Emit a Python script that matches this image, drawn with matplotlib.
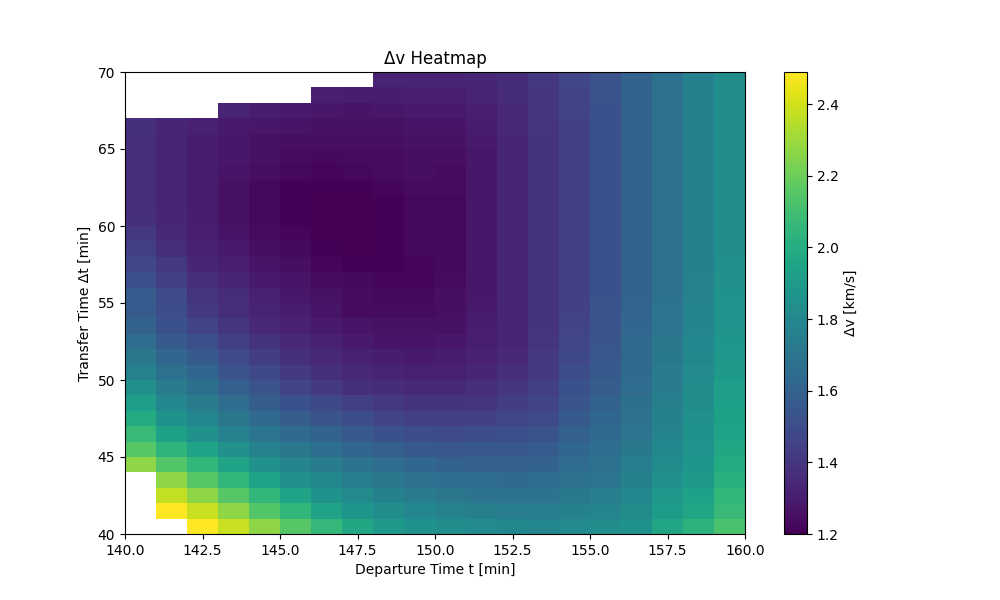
#!/usr/bin/env python3
import matplotlib
matplotlib.use('Agg')
import matplotlib.pyplot as plt
import numpy as np

nan = float('nan')

# cell edges
departure_edges = [140, 141, 142, 143, 144, 145, 146, 147, 148, 149, 150,
                   151, 152, 153, 154, 155, 156, 157, 158, 159, 160]
transfer_edges = [40, 41, 42, 43, 44, 45, 46, 47, 48, 49, 50,
                  51, 52, 53, 54, 55, 56, 57, 58, 59, 60,
                  61, 62, 63, 64, 65, 66, 67, 68, 69, 70]

# delta-v in km/s, top row (dt = 69) first
dv_top_down = [
    [nan, nan, nan, nan, nan, nan, nan, nan, 1.33, 1.33, 1.33, 1.34, 1.36, 1.41, 1.47, 1.53, 1.60, 1.68, 1.76, 1.83],
    [nan, nan, nan, nan, nan, nan, 1.31, 1.30, 1.30, 1.31, 1.31, 1.33, 1.36, 1.40, 1.46, 1.53, 1.60, 1.68, 1.76, 1.83],
    [nan, nan, nan, 1.33, 1.30, 1.29, 1.28, 1.27, 1.28, 1.29, 1.29, 1.31, 1.35, 1.40, 1.46, 1.52, 1.60, 1.68, 1.76, 1.83],
    [1.38, 1.34, 1.32, 1.29, 1.28, 1.27, 1.26, 1.26, 1.26, 1.27, 1.27, 1.30, 1.35, 1.40, 1.45, 1.52, 1.60, 1.68, 1.76, 1.83],
    [1.37, 1.33, 1.30, 1.28, 1.26, 1.25, 1.25, 1.25, 1.25, 1.26, 1.26, 1.29, 1.34, 1.39, 1.45, 1.52, 1.60, 1.68, 1.76, 1.83],
    [1.37, 1.33, 1.30, 1.28, 1.26, 1.24, 1.23, 1.24, 1.24, 1.25, 1.25, 1.28, 1.34, 1.39, 1.45, 1.52, 1.60, 1.68, 1.76, 1.83],
    [1.37, 1.33, 1.30, 1.27, 1.25, 1.23, 1.22, 1.23, 1.24, 1.25, 1.24, 1.28, 1.34, 1.39, 1.45, 1.52, 1.60, 1.68, 1.76, 1.83],
    [1.37, 1.33, 1.30, 1.26, 1.23, 1.21, 1.21, 1.21, 1.22, 1.24, 1.24, 1.28, 1.34, 1.39, 1.45, 1.52, 1.60, 1.68, 1.76, 1.83],
    [1.37, 1.33, 1.30, 1.26, 1.23, 1.21, 1.20, 1.20, 1.21, 1.23, 1.23, 1.28, 1.34, 1.39, 1.45, 1.52, 1.60, 1.68, 1.76, 1.83],
    [1.38, 1.34, 1.30, 1.26, 1.23, 1.21, 1.20, 1.20, 1.21, 1.23, 1.23, 1.28, 1.34, 1.39, 1.45, 1.52, 1.60, 1.68, 1.76, 1.83],
    [1.41, 1.35, 1.31, 1.27, 1.24, 1.22, 1.20, 1.20, 1.21, 1.23, 1.23, 1.28, 1.34, 1.39, 1.45, 1.52, 1.60, 1.68, 1.76, 1.83],
    [1.44, 1.37, 1.32, 1.29, 1.25, 1.23, 1.21, 1.20, 1.21, 1.23, 1.23, 1.28, 1.34, 1.39, 1.45, 1.52, 1.60, 1.68, 1.76, 1.83],
    [1.47, 1.41, 1.34, 1.31, 1.27, 1.25, 1.22, 1.21, 1.21, 1.22, 1.23, 1.28, 1.34, 1.39, 1.45, 1.52, 1.60, 1.68, 1.76, 1.84],
    [1.51, 1.44, 1.37, 1.33, 1.29, 1.27, 1.24, 1.23, 1.22, 1.22, 1.24, 1.28, 1.34, 1.39, 1.45, 1.52, 1.60, 1.68, 1.77, 1.85],
    [1.57, 1.49, 1.40, 1.36, 1.32, 1.28, 1.26, 1.24, 1.23, 1.23, 1.25, 1.28, 1.34, 1.39, 1.45, 1.52, 1.60, 1.68, 1.77, 1.86],
    [1.57, 1.50, 1.42, 1.37, 1.33, 1.30, 1.27, 1.24, 1.24, 1.24, 1.25, 1.29, 1.34, 1.39, 1.45, 1.53, 1.61, 1.70, 1.78, 1.87],
    [1.60, 1.52, 1.46, 1.40, 1.35, 1.32, 1.29, 1.27, 1.26, 1.26, 1.26, 1.30, 1.34, 1.39, 1.46, 1.53, 1.62, 1.70, 1.78, 1.87],
    [1.65, 1.56, 1.51, 1.44, 1.39, 1.35, 1.32, 1.29, 1.27, 1.27, 1.28, 1.31, 1.34, 1.40, 1.47, 1.54, 1.63, 1.71, 1.79, 1.88],
    [1.71, 1.62, 1.56, 1.49, 1.43, 1.38, 1.35, 1.32, 1.30, 1.29, 1.30, 1.32, 1.35, 1.41, 1.48, 1.55, 1.63, 1.72, 1.80, 1.89],
    [1.77, 1.68, 1.62, 1.54, 1.48, 1.42, 1.38, 1.35, 1.33, 1.32, 1.32, 1.34, 1.37, 1.42, 1.50, 1.56, 1.64, 1.73, 1.81, 1.90],
    [1.84, 1.73, 1.67, 1.59, 1.53, 1.46, 1.42, 1.38, 1.36, 1.35, 1.35, 1.37, 1.40, 1.44, 1.52, 1.58, 1.65, 1.73, 1.82, 1.92],
    [1.92, 1.79, 1.73, 1.65, 1.58, 1.52, 1.48, 1.44, 1.41, 1.39, 1.39, 1.40, 1.43, 1.46, 1.54, 1.60, 1.67, 1.75, 1.83, 1.93],
    [1.99, 1.86, 1.79, 1.71, 1.64, 1.58, 1.53, 1.50, 1.46, 1.44, 1.44, 1.45, 1.47, 1.49, 1.56, 1.62, 1.68, 1.76, 1.85, 1.94],
    [2.07, 1.94, 1.85, 1.77, 1.70, 1.64, 1.60, 1.56, 1.52, 1.50, 1.49, 1.50, 1.51, 1.53, 1.59, 1.64, 1.70, 1.78, 1.86, 1.95],
    [2.15, 2.04, 1.95, 1.85, 1.77, 1.71, 1.66, 1.62, 1.59, 1.56, 1.55, 1.55, 1.55, 1.57, 1.62, 1.66, 1.72, 1.80, 1.87, 1.97],
    [2.27, 2.14, 2.05, 1.95, 1.85, 1.78, 1.73, 1.69, 1.65, 1.62, 1.60, 1.59, 1.59, 1.60, 1.65, 1.68, 1.74, 1.82, 1.88, 1.99],
    [nan, 2.27, 2.15, 2.05, 1.95, 1.85, 1.80, 1.74, 1.71, 1.68, 1.66, 1.65, 1.64, 1.65, 1.68, 1.70, 1.76, 1.85, 1.90, 2.02],
    [nan, 2.37, 2.27, 2.15, 2.05, 1.95, 1.86, 1.81, 1.76, 1.73, 1.71, 1.69, 1.69, 1.69, 1.72, 1.74, 1.79, 1.89, 1.93, 2.05],
    [nan, 2.49, 2.38, 2.27, 2.14, 2.05, 1.95, 1.88, 1.83, 1.79, 1.77, 1.75, 1.74, 1.74, 1.76, 1.78, 1.82, 1.91, 1.96, 2.07],
    [nan, nan, 2.49, 2.38, 2.27, 2.15, 2.06, 1.97, 1.90, 1.86, 1.83, 1.81, 1.80, 1.79, 1.81, 1.83, 1.86, 1.96, 2.03, 2.12],
]

dv = np.array(dv_top_down)[::-1]

fig, ax = plt.subplots(figsize=(10, 6))
mesh = ax.pcolormesh(departure_edges, transfer_edges, dv, cmap='viridis', shading='flat')
cbar = fig.colorbar(mesh, ax=ax)
cbar.set_label('Δv [km/s]')

ax.set_xlabel('Departure Time t [min]')
ax.set_ylabel('Transfer Time Δt [min]')
ax.set_title('Δv Heatmap')

plt.savefig('out.png', dpi=100)
